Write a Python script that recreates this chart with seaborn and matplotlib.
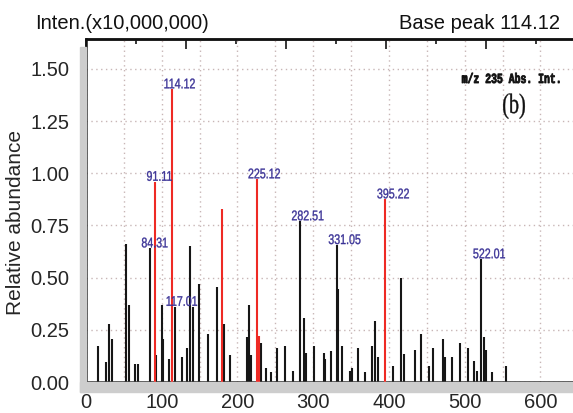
import numpy as np
import pandas as pd
import matplotlib
matplotlib.use("Agg")
import matplotlib.pyplot as plt
from matplotlib.ticker import MultipleLocator, FixedLocator, FuncFormatter
from matplotlib.patches import Rectangle, PathPatch
from matplotlib.textpath import TextPath
from matplotlib.font_manager import FontProperties
from matplotlib.transforms import Affine2D, ScaledTranslation
import seaborn as sns

# ---- spectrum data (m/z, relative abundance) ----
black_mz = [15.4, 26.4, 30.0, 34.3, 53.3, 56.8, 64.7, 68.2, 84.31, 92.0,
            99.8, 102.0, 109.0, 117.01, 126.4, 133.0, 137.4, 141.8, 148.8, 161.6,
            172.6, 182.3, 190.2, 212.7, 215.3, 217.5, 231.6, 237.8, 244.0, 252.3,
            263.3, 273.0, 282.51, 288.4, 290.2, 301.4, 314.0, 315.7, 323.6, 331.05,
            333.0, 338.0, 348.7, 351.8, 358.8, 368.0, 377.8, 382.2, 385.3, 404.7,
            415.7, 420.5, 434.6, 442.5, 453.5, 457.5, 471.2, 474.2, 483.0, 493.5,
            504.6, 512.5, 516.0, 522.01, 525.3, 528.4, 536.7, 554.0]
black_int = [0.174, 0.097, 0.280, 0.206, 0.662, 0.369, 0.086, 0.086, 0.640, 0.129,
             0.369, 0.204, 0.108, 0.360, 0.118, 0.161, 0.651, 0.361, 0.468, 0.228,
             0.457, 0.280, 0.129, 0.217, 0.369, 0.129, 0.185, 0.066, 0.050, 0.164,
             0.174, 0.054, 0.770, 0.305, 0.140, 0.173, 0.140, 0.108, 0.150, 0.656,
             0.444, 0.174, 0.053, 0.066, 0.163, 0.050, 0.174, 0.294, 0.121, 0.077,
             0.500, 0.133, 0.152, 0.228, 0.077, 0.164, 0.206, 0.121, 0.121, 0.185,
             0.164, 0.099, 0.054, 0.588, 0.217, 0.153, 0.050, 0.077]

red_mz = [91.11, 114.12, 179.0, 225.12, 228.0, 395.22]
red_int = [0.959, 1.402, 0.827, 0.971, 0.220, 0.875]

label_mz = [84.31, 91.11, 114.12, 117.01, 225.12, 282.51, 331.05, 395.22, 522.01]
label_txt = ["84.31", "91.11", "114.12", "117.01", "225.12", "282.51", "331.05", "395.22", "522.01"]

y_ticks = [0.00, 0.25, 0.50, 0.75, 1.00, 1.25, 1.50]
x_tick_labels = [0, 100, 200, 300, 400, 500, 600]

peaks = pd.concat([
    pd.DataFrame({"mz": black_mz, "rel": black_int, "kind": "other"}),
    pd.DataFrame({"mz": red_mz, "rel": red_int, "kind": "marked"}),
], ignore_index=True)
lookup = dict(zip(peaks["mz"], peaks["rel"]))

# ---- style ----
sns.set_style("ticks")
plt.rcParams["font.family"] = ["Liberation Sans", "DejaVu Sans"]
plt.rcParams["font.size"] = 14

W, H = 573, 413
fig = plt.figure(figsize=(W / 100, H / 100), dpi=100)
fig.patch.set_facecolor("white")

x0, y_axis, y_top = 86, 382, 39
ax = fig.add_axes([x0 / W, 1 - y_axis / H, 1 - x0 / W, (y_axis - y_top) / H])


def narrow_text(target, anchor, anchor_trans, text, size_px, squeeze, dx=0, dy=0,
                family="Liberation Sans", weight="normal", color="k", ha="left",
                edge=0.25):
    """Draw text as a horizontally squeezed outline anchored at a point."""
    tp = TextPath((0, 0), text, size=size_px, prop=FontProperties(family=family, weight=weight))
    ext = tp.get_extents()
    shift = -ext.x0 if ha == "left" else -(ext.x0 + ext.width / 2)
    tr = (Affine2D().translate(shift, 0).scale(squeeze, 1.0).translate(dx, dy)
          + ScaledTranslation(anchor[0], anchor[1], anchor_trans))
    patch = PathPatch(tp, transform=tr, facecolor=color, edgecolor=color, lw=edge,
                      clip_on=False, zorder=5)
    target.add_artist(patch)
    return patch


# grey frame strips beside the axes
band = "#cdcdcd"
fig.patches.append(Rectangle((80 / W, 1 - 392 / H), 6 / W, (392 - 47) / H,
                             transform=fig.transFigure, color=band, zorder=0))
fig.patches.append(Rectangle((80 / W, 1 - 392 / H), 1 - 80 / W, 10 / H,
                             transform=fig.transFigure, color=band, zorder=0))

colors = {"other": "#161616", "marked": "#ee2a24"}
for kind, sub in peaks.groupby("kind"):
    ax.vlines(sub["mz"], 0, sub["rel"], color=colors[kind], lw=1.5,
              zorder=3 if kind == "marked" else 2)

ax.set_xlim(0, 643)
ax.set_ylim(0, 1.643)

for mz, txt in zip(label_mz, label_txt):
    narrow_text(ax, (mz, lookup[mz]), ax.transData, txt, size_px=14, squeeze=0.76,
                dx=-8, dy=1, color="#3a3296")

ax.xaxis.set_major_locator(MultipleLocator(50))
ax.xaxis.set_minor_locator(MultipleLocator(10))
ax.xaxis.set_major_formatter(FuncFormatter(
    lambda v, p: f"{int(round(v))}" if int(round(v)) in x_tick_labels else ""))
ax.yaxis.set_major_locator(FixedLocator(y_ticks))
ax.yaxis.set_minor_locator(MultipleLocator(0.05))
ax.yaxis.set_major_formatter(FuncFormatter(lambda v, p: f"{v:.2f}"))

ax.tick_params(axis="x", which="major", direction="out", length=7, width=1.1,
               labelsize=14.5, pad=1, color="#111111")
ax.tick_params(axis="x", which="minor", direction="out", length=4, width=1.0,
               color="#111111")
ax.tick_params(axis="y", which="major", direction="out", length=4, width=1.3,
               labelsize=14.5, pad=8, color="#111111")
ax.tick_params(axis="y", which="minor", direction="out", length=2.5, width=1.3,
               color="#111111")

ax.grid(True, which="major", color="#c8b6b6", linestyle=(0, (1, 2.5)), lw=1.0)
ax.set_axisbelow(True)

for side in ("left", "bottom", "top"):
    ax.spines[side].set_linewidth(1.8)
    ax.spines[side].set_color("#111111")
ax.spines["right"].set_visible(False)

# upper scale ticks
top = ax.secondary_xaxis("top")
top.xaxis.set_major_locator(MultipleLocator(132))
top.xaxis.set_minor_locator(MultipleLocator(66))
top.tick_params(which="major", direction="in", length=7, width=1.3, labeltop=False)
top.tick_params(which="minor", direction="in", length=3.5, width=1.3)
top.spines["top"].set_linewidth(1.8)

ax.set_ylabel("Relative abundance", fontsize=15, labelpad=2)
ax.yaxis.set_label_coords(-0.125, 0.465)
ax.set_xlabel("")

fig.text(35 / W, 1 - 29 / H, "Inten.(x10,000,000)", fontsize=14.5, ha="left",
         va="baseline", color="#111111")
fig.text(560 / W, 1 - 29 / H, "Base peak 114.12", fontsize=14.5, ha="right",
         va="baseline", color="#111111")

# panel annotation
narrow_text(fig, (462 / W, 1 - 83 / H), fig.transFigure, "m/z 235 Abs. Int.",
            size_px=14, squeeze=0.7, family="Liberation Mono", weight="bold",
            color="#111111", edge=0.6)
narrow_text(fig, (514 / W, 1 - 113 / H), fig.transFigure, "(b)",
            size_px=28, squeeze=0.72, family="Liberation Serif", color="#111111",
            ha="center")

fig.savefig("out.png", dpi=100, facecolor="white")
